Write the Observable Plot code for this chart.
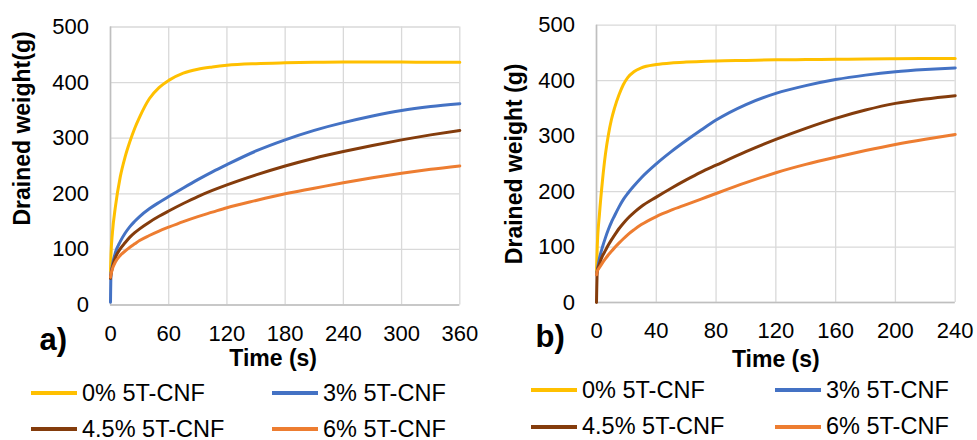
<!DOCTYPE html>
<html>
<head>
<meta charset="utf-8">
<script src="https://cdn.jsdelivr.net/npm/d3@7"></script>
<script src="https://cdn.jsdelivr.net/npm/@observablehq/plot@0.6"></script>
<style>
  html, body { margin: 0; padding: 0; background: #fff; }
  #wrap { position: relative; width: 977px; height: 440px; overflow: hidden; font-family: "Liberation Sans", Arial, sans-serif; }
  .panel { position: absolute; top: 0; }
  .leg { position: absolute; display: flex; align-items: center; height: 30px; font-size: 23.5px; color: #000; white-space: nowrap; }
  .sw { width: 46px; height: 4px; margin-right: 5px; }
</style>
</head>
<body>
<div id="wrap"></div>
<script>
// ---------- data ----------
const seriesNames = ["0% 5T-CNF", "3% 5T-CNF", "4.5% 5T-CNF", "6% 5T-CNF"];
const seriesColors = ["#FFC000", "#4472C4", "#843C0C", "#ED7D31"];

// Panel a) time (s)
const timeA = [0, 0.5, 2, 5, 10, 15, 20, 25, 30, 40, 50, 60, 75, 90, 105, 120, 150, 180, 210, 240, 270, 300, 330, 360];
const a0  = [60, 90, 130, 176, 230, 266, 294, 318, 338, 371, 391, 404, 417, 424, 428, 431, 434, 435.5, 436.5, 437, 437, 437, 436.5, 436.5];
const a3  = [5, 55, 72, 94, 114, 129, 141, 150.5, 159, 173, 184.5, 195, 210.5, 225.5, 239.5, 252.5, 277, 297, 314, 328, 340, 350, 357, 362];
const a45 = [48, 55, 68, 85, 101, 112, 122, 130, 137, 149, 159.5, 169, 182.5, 195, 206, 216, 234, 250, 264, 276, 287, 297, 306, 314];
const a6  = [50, 55, 65, 77, 89, 97, 104, 110, 116, 125, 133, 140, 150, 159, 167, 175, 188, 200, 210, 220, 229, 237, 244, 250];

// Panel b) time (s)
const timeB = [0, 0.5, 2, 4, 6, 8, 10, 12, 15, 18, 21, 25, 30, 40, 50, 60, 70, 80, 100, 120, 140, 160, 180, 200, 220, 240];
const b0  = [55, 100, 160, 220, 268, 303, 330, 350, 374, 393, 406, 416, 423, 429, 432, 433.5, 434.5, 435.5, 436.5, 437.5, 438, 438.5, 439, 439.5, 440, 440];
const b3  = [50, 58, 80, 100, 117, 132, 145, 156, 172, 186, 197, 210, 225, 250, 272, 292, 311, 329, 357, 377, 391, 402, 410, 416, 420, 423];
const b45 = [0, 55, 70, 84, 94, 104, 113, 121, 133, 143, 152, 162, 173, 190, 206, 221, 235, 247.5, 272, 294, 314, 332, 347, 359, 367, 373];
const b6  = [50, 56, 63, 71.5, 79, 86, 92.5, 98.5, 107, 115, 122.5, 131, 140.5, 155, 166.5, 176.5, 186.5, 196.5, 216, 234, 249, 262, 274, 285, 294.5, 303];

const xTicksA = [0, 60, 120, 180, 240, 300, 360];
const xTicksB = [0, 40, 80, 120, 160, 200, 240];
const yTicks = [0, 100, 200, 300, 400, 500];

function rows(times, lists) {
  const out = [];
  lists.forEach((vals, i) => vals.forEach((w, j) => out.push({t: times[j], w, s: seriesNames[i]})));
  return out;
}

function panel(cfg) {
  return Plot.plot({
    width: cfg.width, height: 375,
    marginLeft: cfg.ml, marginRight: cfg.mr, marginTop: cfg.mt, marginBottom: 375 - cfg.pb,
    style: {fontFamily: '"Liberation Sans", Arial, sans-serif', fontSize: "22px", color: "#000", background: "transparent", overflow: "visible"},
    x: {domain: [0, cfg.xTicks[cfg.xTicks.length - 1]]},
    y: {domain: [0, 500]},
    color: {domain: seriesNames, range: seriesColors},
    marks: [
      Plot.gridX(cfg.xTicks, {stroke: "#d9d9d9", strokeOpacity: 1, strokeWidth: 1.3}),
      Plot.gridY(yTicks, {stroke: "#d9d9d9", strokeOpacity: 1, strokeWidth: 1.3}),
      Plot.ruleX([0], {stroke: "#bfbfbf", strokeWidth: 1.6}),
      Plot.ruleY([0], {stroke: "#bfbfbf", strokeWidth: 1.6}),
      Plot.axisX(cfg.xTicks, {tickSize: 0, tickPadding: 20, label: null, fill: "#000"}),
      Plot.axisY(yTicks, {tickSize: 0, tickPadding: 21.5, label: null, fill: "#000"}),
      Plot.line(cfg.data, {x: "t", y: "w", stroke: "s", strokeWidth: 3, curve: "monotone-x"}),
      Plot.text([cfg.ytitle], {frameAnchor: "left", textAnchor: "middle", rotate: -90, dx: cfg.ytDx, dy: cfg.ytDy, fontWeight: "bold", fontSize: 23, lineAnchor: "middle", fill: "#000"}),
      Plot.text(["Time (s)"], {frameAnchor: "bottom", textAnchor: "middle", dx: cfg.xtDx, dy: cfg.xtDy, fontWeight: "bold", fontSize: 23, lineAnchor: "middle", fill: "#000"}),
      Plot.text([cfg.tag], {frameAnchor: "bottom-left", textAnchor: "start", dx: cfg.tagDx, dy: cfg.tagDy, fontWeight: "bold", fontSize: 31, lineAnchor: "middle", fill: "#000"})
    ]
  });
}

const wrap = document.getElementById("wrap");

function addPanel(left, cfg, legend) {
  const el = panel(cfg);
  el.classList.add("panel");
  el.style.left = left + "px";
  wrap.appendChild(el);
  seriesNames.forEach((name, i) => {
    const d = document.createElement("div");
    d.className = "leg";
    d.style.left = (legend.cols[i % 2]) + "px";
    d.style.top = (legend.rows[Math.floor(i / 2)] - 15) + "px";
    const sw = document.createElement("div");
    sw.className = "sw";
    sw.style.background = seriesColors[i];
    const tx = document.createElement("span");
    tx.textContent = name;
    d.appendChild(sw); d.appendChild(tx);
    wrap.appendChild(d);
  });
}

addPanel(0, {
  width: 490, ml: 110, mr: 30.7, mt: 26.5, pb: 304.5,
  xTicks: xTicksA, data: rows(timeA, [a0, a3, a45, a6]),
  ytitle: "Drained weight(g)", ytDx: -88, ytDy: -37.5,
  xtDx: -12, xtDy: 53.5,
  tag: "a)", tagDx: -71, tagDy: 35.5
}, {cols: [31, 272], rows: [393, 429]});

addPanel(490, {
  width: 487, ml: 106, mr: 22.3, mt: 24.7, pb: 302,
  xTicks: xTicksB, data: rows(timeB, [b0, b3, b45, b6]),
  ytitle: "Drained weight (g)", ytDx: -82, ytDy: 0,
  xtDx: 0, xtDy: 57,
  tag: "b)", tagDx: -61, tagDy: 35
}, {cols: [531, 775], rows: [390, 426.7]});
</script>
</body>
</html>
